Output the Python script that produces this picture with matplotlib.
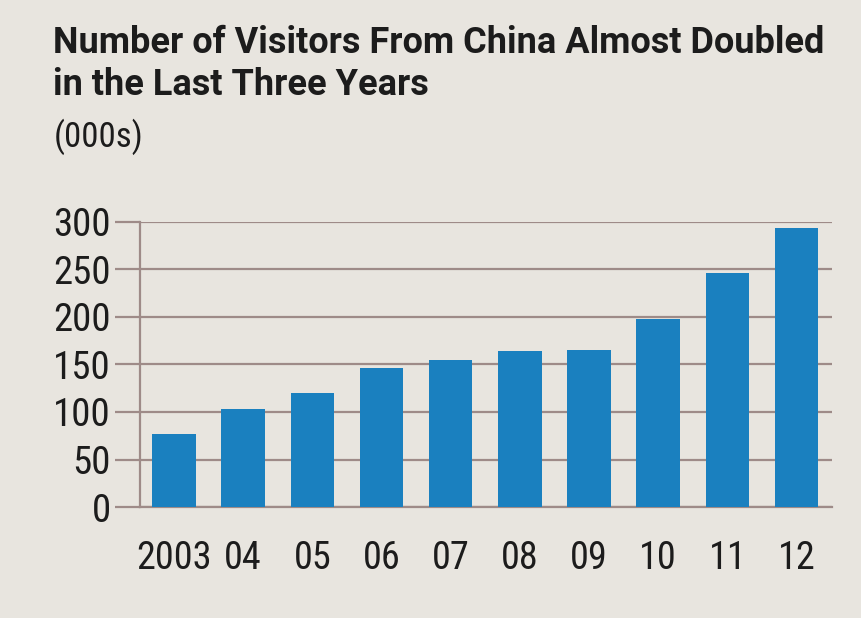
import matplotlib
matplotlib.use("Agg")
import matplotlib.pyplot as plt
import numpy as np
from matplotlib import font_manager

# Visitors from China, thousands
years = ["2003", "04", "05", "06", "07", "08", "09", "10", "11", "12"]
visitors = [77, 103, 120, 146, 155, 164, 165, 198, 246, 294]
yticks = [0, 50, 100, 150, 200, 250, 300]

title_lines = ["Number of Visitors From China Almost Doubled",
               "in the Last Three Years"]
unit_label = "(000s)"

# pick a condensed grotesque that is present on this machine
names = {f.name for f in font_manager.fontManager.ttflist}
candidates = ["Roboto Condensed", "Liberation Sans Narrow", "Archivo Narrow",
              "PT Sans Narrow", "IBM Plex Sans Condensed", "Fira Sans Condensed",
              "Encode Sans Condensed", "Asap Condensed", "DejaVu Sans"]
narrow = next(c for c in candidates if c in names)
heading = "Roboto" if "Roboto" in names else narrow

paper = "#e8e5df"
bar_blue = "#1a80bf"
rule = "#9e8b88"
ink = "#1c1c1c"

fig = plt.figure(figsize=(8.61, 6.18), dpi=100, facecolor=paper)
ax = fig.add_axes([0.1626, 0.1796, 0.8037, 0.4612], facecolor=paper)

x = np.arange(len(years))
ax.bar(x, visitors, width=0.63, color=bar_blue, zorder=3)

ax.set_xlim(-0.49, 9.51)
ax.set_ylim(0, 300)
ax.set_yticks(yticks)
ax.set_yticklabels([str(v) for v in yticks], fontfamily=narrow, fontsize=28, color=ink)
ax.set_xticks(x)
ax.set_xticklabels(years, fontfamily=narrow, fontsize=27.5, color=ink)

ax.grid(axis="y", color=rule, linewidth=1.6, zorder=1)
ax.tick_params(axis="y", length=18, width=1.6, color=rule, pad=3)
ax.tick_params(axis="x", length=0, pad=24)

for side in ["top", "right"]:
    ax.spines[side].set_visible(False)
for side in ["left", "bottom"]:
    ax.spines[side].set_color(rule)
    ax.spines[side].set_linewidth(1.6)

fig.text(0.062, 0.9142, title_lines[0], fontfamily=heading, fontweight="bold",
         fontsize=26, color=ink, va="baseline")
fig.text(0.062, 0.8463, title_lines[1], fontfamily=heading, fontweight="bold",
         fontsize=26, color=ink, va="baseline")
fig.text(0.062, 0.762, unit_label, fontfamily=narrow, fontsize=25,
         color=ink, va="baseline")

fig.savefig("out.png", dpi=100, facecolor=paper)
